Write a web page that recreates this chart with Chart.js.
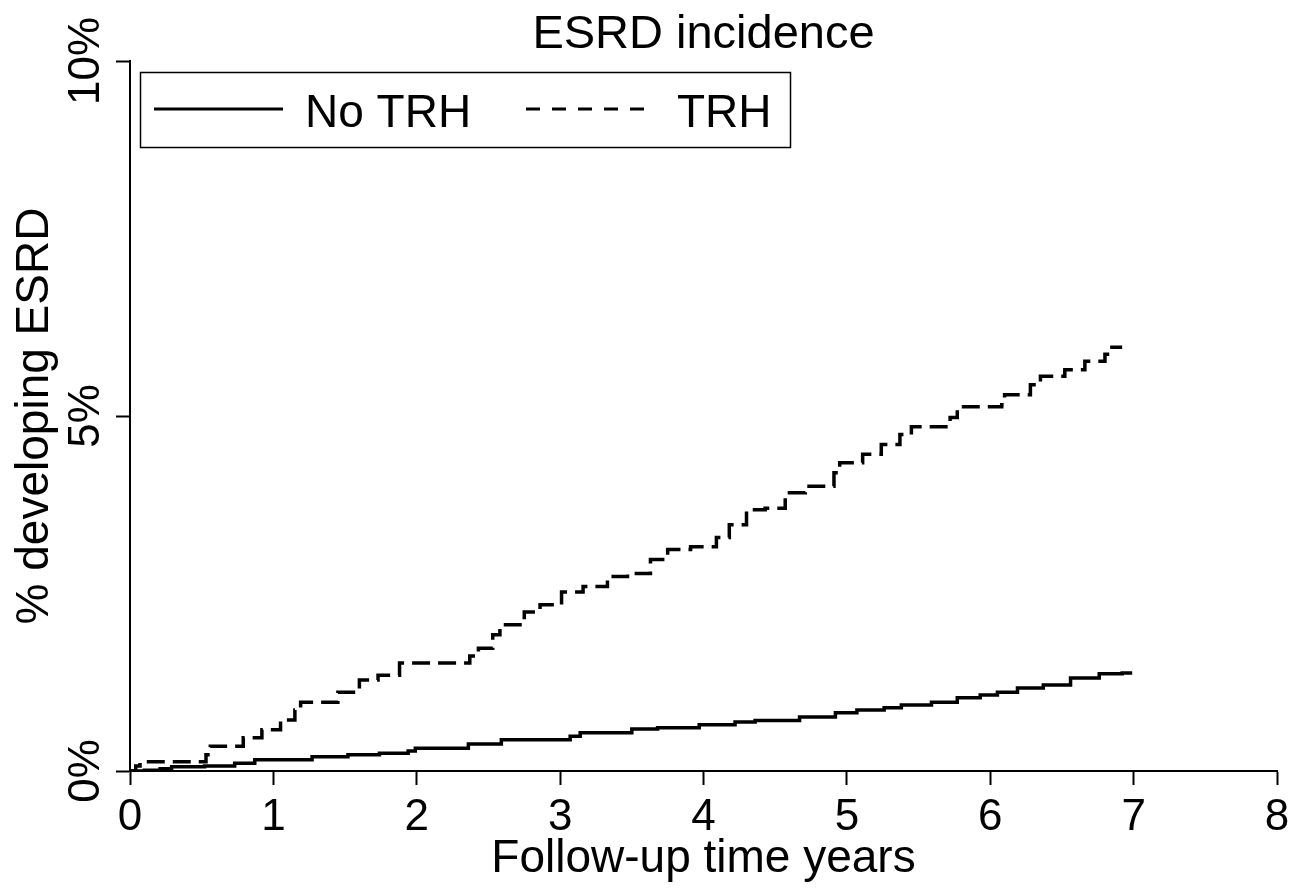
<!DOCTYPE html>
<html>
<head>
<meta charset="utf-8">
<title>ESRD incidence</title>
<script src="https://cdn.jsdelivr.net/npm/chart.js@4.4.0/dist/chart.umd.min.js"></script>
<style>
  html, body { margin: 0; padding: 0; background: #fff; }
  #wrap { width: 1307px; height: 892px; position: relative; }
</style>
</head>
<body>
<div id="wrap"><canvas id="grafico"></canvas></div>
<script>
// follow-up time (years) and cumulative % developing ESRD
const trhTime = [0, 0.04, 0.07, 0.53, 0.56, 0.79, 0.92, 1.05, 1.15, 1.19, 1.45, 1.60, 1.73, 1.88,
  2.37, 2.43, 2.53, 2.58, 2.75, 2.86, 3.01, 3.16, 3.33, 3.47, 3.63, 3.75, 3.91,
  4.09, 4.18, 4.30, 4.43, 4.57, 4.71, 4.91, 4.95, 5.11, 5.24, 5.37, 5.45, 5.72, 5.77,
  6.08, 6.10, 6.28, 6.35, 6.52, 6.66, 6.80, 6.83, 6.92];
const trhPct = [0, 0.07, 0.13, 0.23, 0.35, 0.47, 0.58, 0.72, 0.86, 0.97, 1.11, 1.28, 1.35, 1.52,
  1.62, 1.73, 1.92, 2.06, 2.24, 2.34, 2.52, 2.60, 2.74, 2.78, 2.98, 3.12, 3.16,
  3.29, 3.47, 3.68, 3.70, 3.92, 4.01, 4.20, 4.34, 4.46, 4.60, 4.74, 4.85, 4.98, 5.13,
  5.16, 5.30, 5.44, 5.56, 5.65, 5.77, 5.87, 5.97, 5.97];

const noTrhTime = [0, 0.10, 0.21, 0.29, 0.52, 0.73, 0.87, 1.27, 1.52, 1.74, 1.94, 1.99, 2.36, 2.59,
  3.07, 3.14, 3.50, 3.68, 3.97, 4.22, 4.36, 4.67, 4.92, 5.07, 5.26, 5.38, 5.59, 5.77, 5.93,
  6.05, 6.19, 6.37, 6.56, 6.76, 6.92, 6.99];
const noTrhPct = [0, 0.01, 0.03, 0.06, 0.07, 0.11, 0.16, 0.20, 0.23, 0.25, 0.28, 0.32, 0.38, 0.44,
  0.49, 0.54, 0.59, 0.61, 0.65, 0.69, 0.71, 0.76, 0.82, 0.86, 0.89, 0.93, 0.97, 1.03, 1.07,
  1.11, 1.17, 1.21, 1.31, 1.37, 1.38, 1.38];

const seriesNames = ['No TRH', 'TRH'];
const xTicks = [0, 1, 2, 3, 4, 5, 6, 7, 8];
const yTicks = [0, 5, 10];
const yTickLabels = ['0%', '5%', '10%'];

const fonte = '"Liberation Sans", Arial, Helvetica, sans-serif';

const juntar = (xs, ys) => xs.map((x, i) => ({ x: x, y: ys[i] }));

// title over the plot area, rotated y tick labels and the boxed legend
const extras = {
  id: 'extras',
  afterDraw(chart) {
    const ctx = chart.ctx;
    const area = chart.chartArea;
    const y = chart.scales.y;
    ctx.save();
    ctx.fillStyle = '#000';

    ctx.font = '47px ' + fonte;
    ctx.textAlign = 'center';
    ctx.textBaseline = 'alphabetic';
    ctx.fillText('ESRD incidence', (area.left + area.right) / 2, 48);

    ctx.font = '44px ' + fonte;
    y.ticks.forEach((t) => {
      const i = yTicks.indexOf(t.value);
      const py = y.getPixelForValue(t.value);
      ctx.save();
      ctx.translate(99, py);
      ctx.rotate(-Math.PI / 2);
      ctx.fillText(i >= 0 ? yTickLabels[i] : t.label, 0, 0);
      ctx.restore();
    });

    // legend
    ctx.strokeStyle = '#000';
    ctx.lineWidth = 1.5;
    ctx.strokeRect(140.5, 72.5, 650, 75);
    ctx.lineWidth = 3;
    ctx.beginPath();
    ctx.moveTo(154, 109);
    ctx.lineTo(283, 109);
    ctx.stroke();
    ctx.setLineDash([14, 12]);
    ctx.beginPath();
    ctx.moveTo(526, 109);
    ctx.lineTo(655, 109);
    ctx.stroke();
    ctx.setLineDash([]);
    ctx.font = '46px ' + fonte;
    ctx.textAlign = 'left';
    ctx.fillText(seriesNames[0], 305, 127);
    ctx.fillText(seriesNames[1], 677, 127);
    ctx.restore();
  }
};

const ctx = document.getElementById('grafico').getContext('2d');
const grafico = new Chart(ctx, {
  type: 'line',
  data: {
    datasets: [
      {
        label: seriesNames[0],
        data: juntar(noTrhTime, noTrhPct),
        borderColor: '#000',
        borderWidth: 3.5,
        pointRadius: 0,
        stepped: true,
        fill: false
      },
      {
        label: seriesNames[1],
        data: juntar(trhTime, trhPct),
        borderColor: '#000',
        borderWidth: 3.5,
        borderDash: [18, 8],
        pointRadius: 0,
        stepped: true,
        fill: false
      }
    ]
  },
  options: {
    responsive: true,
    maintainAspectRatio: false,
    animation: false,
    layout: { padding: { top: 61, right: 30, bottom: 0, left: 0 } },
    plugins: {
      legend: { display: false },
      tooltip: { enabled: false },
      title: { display: false }
    },
    scales: {
      x: {
        type: 'linear',
        min: xTicks[0],
        max: xTicks[xTicks.length - 1],
        afterBuildTicks: (s) => { s.ticks = xTicks.map((v) => ({ value: v })); },
        afterFit: (s) => { s.height = 121; },
        ticks: {
          color: '#000',
          font: { family: fonte, size: 44 },
          padding: 6,
          maxRotation: 0
        },
        grid: {
          drawOnChartArea: false,
          drawTicks: true,
          tickLength: 14,
          tickColor: '#000',
          tickWidth: 2
        },
        border: { display: true, color: '#000', width: 2 },
        title: {
          display: true,
          text: 'Follow-up time years',
          color: '#000',
          font: { family: fonte, size: 46 },
          padding: { top: 0, bottom: 5 }
        }
      },
      y: {
        type: 'linear',
        min: yTicks[0],
        max: yTicks[yTicks.length - 1],
        afterBuildTicks: (s) => { s.ticks = yTicks.map((v) => ({ value: v })); },
        afterFit: (s) => { s.width = 130; },
        ticks: { display: false },
        grid: {
          drawOnChartArea: false,
          drawTicks: true,
          tickLength: 14,
          tickColor: '#000',
          tickWidth: 2
        },
        border: { display: true, color: '#000', width: 2 },
        title: {
          display: true,
          text: '% developing ESRD',
          color: '#000',
          font: { family: fonte, size: 46 },
          padding: { top: 8, bottom: 0 }
        }
      }
    }
  },
  plugins: [extras]
});
</script>
</body>
</html>
